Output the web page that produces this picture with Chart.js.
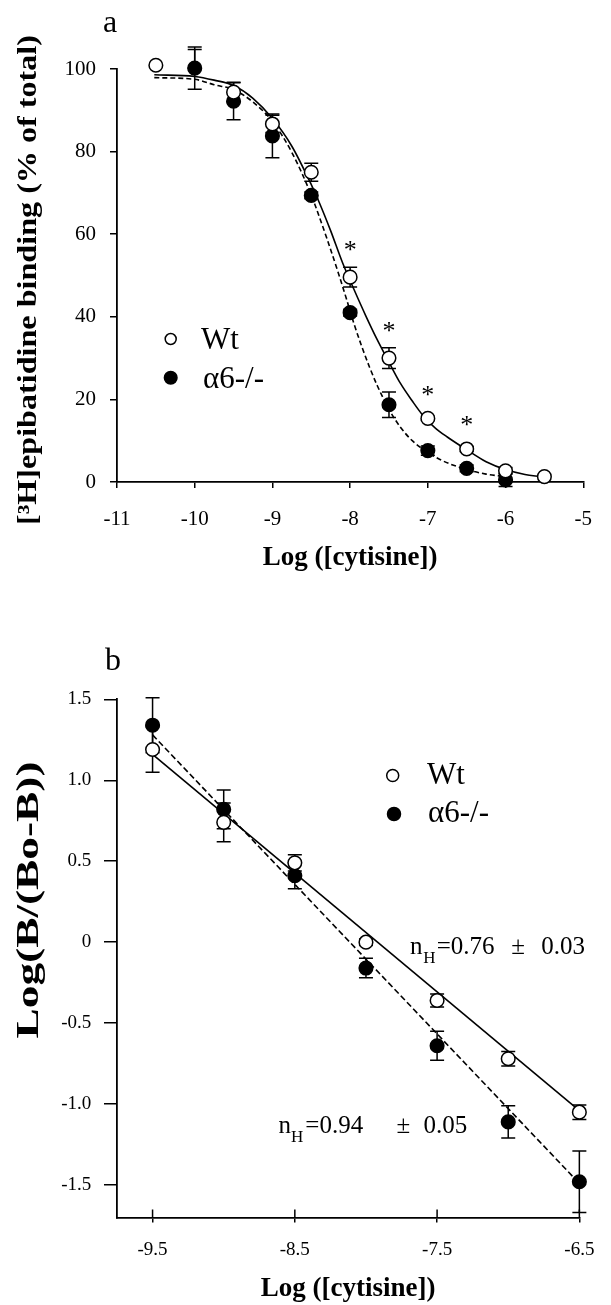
<!DOCTYPE html>
<html lang="en">
<head>
<meta charset="UTF-8">
<title>Cytisine inhibition of [3H]epibatidine binding</title>
<script src="https://cdn.jsdelivr.net/npm/chart.js"></script>
<style>
  html, body { margin: 0; padding: 0; background: #fff; }
  body { width: 611px; height: 1305px; position: relative; overflow: hidden; }
  .panel { position: absolute; left: 0; width: 611px; }
  #panel-a { top: 0; height: 620px; }
  #panel-b { top: 620px; height: 685px; }
</style>
</head>
<body>
<div class="panel" id="panel-a"><canvas id="chartA"></canvas></div>
<div class="panel" id="panel-b"><canvas id="chartB"></canvas></div>
<script>
// panel a - competition curves (% of total binding)
var concWtA = [-10.5, -10, -9.5, -9, -8.5, -8, -7.5, -7, -6.5, -6, -5.5];
var wtA     = [100.9, 102.5, 94.4, 86.7, 75.0, 49.6, 30.0, 15.4, 8.0, 2.7, 1.3];
var wtErrA  = [0, 2.2, 2.4, 2.1, 2.2, 2.4, 2.5, 0.5, 0.6, 0.8, 0];
var concKoA = [-10, -9.5, -9, -8.5, -8, -7.5, -7, -6.5, -6];
var koA     = [100.2, 92.2, 83.8, 69.4, 41.0, 18.7, 7.6, 3.3, 0.5];
var koErrA  = [5.1, 4.5, 5.3, 0.8, 0.8, 3.1, 1.1, 0.8, 1.6];

// fitted curves
var fitXWtA = [-10.52, -10, -9.75, -9.5, -9.25, -9, -8.75, -8.5, -8.4, -8.25, -8.1, -7.95, -7.8, -7.65, -7.5, -7.35, -7.2, -7.05, -6.9, -6.75, -6.5, -6.25, -6, -5.75, -5.55];
var fitWtA  = [98.6, 98.2, 97.3, 96.0, 92.9, 88.0, 81.3, 72.0, 67.8, 60.8, 53.2, 46.6, 40.3, 34.4, 29.0, 23.8, 19.6, 15.8, 13.0, 10.9, 7.8, 4.9, 3.0, 1.8, 1.3];
var fitXKoA = [-10.52, -10, -9.75, -9.5, -9.25, -9, -8.75, -8.5, -8.45, -8.3, -8.15, -8.05, -7.95, -7.85, -7.75, -7.65, -7.5, -7.35, -7.2, -7.05, -6.85, -6.55, -6.25, -6];
var fitKoA  = [97.9, 97.5, 96.2, 95.0, 92.0, 87.3, 79.8, 69.5, 67.0, 59.0, 50.5, 44.5, 38.3, 32.8, 27.8, 23.3, 17.6, 13.2, 10.0, 7.8, 5.5, 3.3, 1.9, 1.3];

// significance marks
var starX = [-8, -7.5, -7, -6.5];
var starY = [57.3, 37.8, 22.3, 14.9];

var xTicksA = [-11, -10, -9, -8, -7, -6, -5];
var yTicksA = [0, 20, 40, 60, 80, 100];

// panel b - Hill plot
var concB   = [-9.5, -9, -8.5, -8, -7.5, -7, -6.5];
var wtB     = [1.19, 0.74, 0.49, 0.0, -0.36, -0.72, -1.05];
var wtErrB  = [0.14, 0.12, 0.05, 0.02, 0.04, 0.045, 0.045];
var koB     = [1.34, 0.82, 0.41, -0.16, -0.64, -1.11, -1.48];
var koErrB  = [0.17, 0.12, 0.08, 0.06, 0.09, 0.10, 0.19];
var fitXB   = [-9.5, -6.5];
var fitWtB  = [1.16, -1.04];
var fitKoB  = [1.28, -1.49];

var xTicksB = [-9.5, -8.5, -7.5, -6.5];
var yTicksB = [-1.5, -1.0, -0.5, 0, 0.5, 1.0, 1.5];

var nhWt = ['0.76', '0.03'];
var nhKo = ['0.94', '0.05'];

var SERIF = '"Liberation Serif", "Times New Roman", serif';

function pts(xs, ys) {
    return xs.map(function (x, i) { return { x: x, y: ys[i] }; });
}

// error bars, legend, labels etc.
var decor = {
    id: 'decor',
    beforeDatasetsDraw: function (chart) {
        var ctx = chart.ctx, xs = chart.scales.x, ys = chart.scales.y;
        ctx.save();
        ctx.strokeStyle = '#000';
        ctx.lineWidth = 1.5;
        chart.data.datasets.forEach(function (ds) {
            if (!ds.errors) return;
            ds.data.forEach(function (p, j) {
                var e = ds.errors[j];
                if (!e) return;
                var px = xs.getPixelForValue(p.x);
                var top = ys.getPixelForValue(p.y + e);
                var bot = ys.getPixelForValue(p.y - e);
                ctx.beginPath();
                ctx.moveTo(px, top); ctx.lineTo(px, bot);
                ctx.moveTo(px - 7, top); ctx.lineTo(px + 7, top);
                ctx.moveTo(px - 7, bot); ctx.lineTo(px + 7, bot);
                ctx.stroke();
            });
        });
        ctx.restore();
    },
    afterDraw: function (chart, args, o) {
        var ctx = chart.ctx, xs = chart.scales.x, ys = chart.scales.y;
        ctx.save();
        ctx.fillStyle = '#000';
        ctx.strokeStyle = '#000';

        // rotated y title, stretched along its length like the original
        if (o.sideTitle) {
            var t = o.sideTitle;
            ctx.save();
            ctx.font = 'bold ' + t.size + 'px ' + SERIF;
            var w = ctx.measureText(t.text).width;
            ctx.translate(t.x, t.y);
            ctx.rotate(-Math.PI / 2);
            ctx.scale(t.length / w, 1);
            ctx.textAlign = 'center';
            ctx.textBaseline = 'middle';
            ctx.fillText(t.text, 0, 0);
            ctx.restore();
        }

        if (o.letter) {
            ctx.font = o.letter.size + 'px ' + SERIF;
            ctx.textAlign = 'left';
            ctx.textBaseline = 'alphabetic';
            ctx.fillText(o.letter.text, o.letter.x, o.letter.y);
        }

        if (o.innerTick) {
            ctx.lineWidth = 1.5;
            ctx.beginPath();
            xs.ticks.forEach(function (tk) {
                var px = xs.getPixelForValue(tk.value);
                ctx.moveTo(px, chart.chartArea.bottom);
                ctx.lineTo(px, chart.chartArea.bottom - o.innerTick);
            });
            ctx.stroke();
        }

        (o.legend || []).forEach(function (it) {
            var ds = chart.data.datasets[it.ds];
            ctx.beginPath();
            ctx.arc(it.cx, it.cy, it.r, 0, Math.PI * 2);
            ctx.fillStyle = ds.pointBackgroundColor;
            ctx.fill();
            ctx.lineWidth = 1.5;
            ctx.stroke();
            ctx.fillStyle = '#000';
            ctx.font = it.size + 'px ' + SERIF;
            ctx.textAlign = 'left';
            ctx.textBaseline = 'alphabetic';
            ctx.fillText(ds.label, it.tx, it.ty);
        });

        if (o.stars) {
            ctx.font = '26px ' + SERIF;
            ctx.textAlign = 'center';
            ctx.textBaseline = 'alphabetic';
            starX.forEach(function (x, i) {
                ctx.fillText('*', xs.getPixelForValue(x), ys.getPixelForValue(starY[i]) + 13);
            });
        }

        (o.notes || []).forEach(function (n) {
            var x0 = xs.getPixelForValue(n.x), y0 = ys.getPixelForValue(n.y);
            ctx.textAlign = 'left';
            ctx.textBaseline = 'alphabetic';
            ctx.font = '25px ' + SERIF;
            ctx.fillText('n', x0, y0);
            ctx.fillText('=' + n.vals[0], x0 + n.dx[1], y0);
            ctx.fillText('\u00b1', x0 + n.dx[2], y0);
            ctx.fillText(n.vals[1], x0 + n.dx[3], y0);
            ctx.font = '17px ' + SERIF;
            ctx.fillText('H', x0 + n.dx[0], y0 + 9);
        });
        ctx.restore();
    }
};

function axisCommon(tickLen, pad, size, cb) {
    return {
        grid: { drawOnChartArea: false, drawTicks: true, tickLength: tickLen, color: '#000', lineWidth: 1.5 },
        border: { display: true, color: '#000', width: 1.8 },
        ticks: { color: '#000', padding: pad, autoSkip: false, maxRotation: 0,
                 font: { family: SERIF, size: size }, callback: cb }
    };
}

function makeScales(cfg) {
    var x = axisCommon(cfg.xTickLen, cfg.xPad, cfg.tickSize, cfg.xFmt);
    x.type = 'linear';
    x.min = cfg.xMin; x.max = cfg.xMax;
    x.afterBuildTicks = function (s) { s.ticks = cfg.xTicks.map(function (v) { return { value: v }; }); };
    x.afterFit = function (s) { s.height = cfg.xHeight; };
    x.title = { display: true, text: 'Log ([cytisine])', color: '#000',
                font: { family: SERIF, size: 27, weight: 'bold', lineHeight: 1 },
                padding: { top: 0, bottom: cfg.titlePad } };
    var y = axisCommon(cfg.yTickLen, cfg.yPad, cfg.tickSize, cfg.yFmt);
    y.min = cfg.yMin; y.max = cfg.yMax;
    y.afterBuildTicks = function (s) { s.ticks = cfg.yTicks.map(function (v) { return { value: v }; }); };
    y.afterFit = function (s) { s.width = 117; };
    return { x: x, y: y };
}

function pointSet(label, xs, ys, errs, fill, order) {
    return { label: label, data: pts(xs, ys), errors: errs, showLine: false, clip: false,
             pointRadius: 6.8, pointHoverRadius: 6.8, pointBackgroundColor: fill,
             pointBorderColor: '#000', pointBorderWidth: 1.5, order: order };
}

function lineSet(label, xs, ys, dash, order) {
    return { label: label, data: pts(xs, ys), showLine: true, pointRadius: 0, clip: false,
             borderColor: '#000', borderWidth: 1.6, borderDash: dash, fill: false,
             cubicInterpolationMode: 'monotone', order: order };
}

var chartA = new Chart(document.getElementById('chartA'), {
    type: 'scatter',
    data: {
        datasets: [
            pointSet('Wt', concWtA, wtA, wtErrA, '#fff', 0),
            pointSet('\u03b16-/-', concKoA, koA, koErrA, '#000', 1),
            lineSet('Wt fit', fitXWtA, fitWtA, [], 2),
            lineSet('\u03b16-/- fit', fitXKoA, fitKoA, [5, 3], 3)
        ]
    },
    options: {
        responsive: true,
        maintainAspectRatio: false,
        animation: false,
        layout: { padding: { left: 0, right: 14, top: 69, bottom: 0 } },
        scales: makeScales({
            xMin: -11, xMax: -5, xTicks: xTicksA, yMin: 0, yMax: 100, yTicks: yTicksA,
            xTickLen: 6, xPad: 19, yTickLen: 7, yPad: 14, tickSize: 21,
            xHeight: 138, titlePad: 48,
            xFmt: function (v) { return String(v); },
            yFmt: function (v) { return String(v); }
        }),
        plugins: {
            legend: { display: false },
            tooltip: { enabled: false },
            decor: {
                sideTitle: { text: '[\u00b3H]epibatidine binding (% of total)', x: 29, y: 280, size: 27, length: 490 },
                letter: { text: 'a', x: 103, y: 32, size: 32 },
                legend: [
                    { ds: 0, cx: 170.7, cy: 339, r: 5.5, tx: 201, ty: 348.5, size: 31 },
                    { ds: 1, cx: 170.7, cy: 377.7, r: 6.3, tx: 203, ty: 387.7, size: 31 }
                ],
                stars: true
            }
        }
    },
    plugins: [decor]
});

var chartB = new Chart(document.getElementById('chartB'), {
    type: 'scatter',
    data: {
        datasets: [
            pointSet('Wt', concB, wtB, wtErrB, '#fff', 0),
            pointSet('\u03b16-/-', concB, koB, koErrB, '#000', 1),
            lineSet('Wt fit', fitXB, fitWtB, [], 2),
            lineSet('\u03b16-/- fit', fitXB, fitKoB, [6, 3], 3)
        ]
    },
    options: {
        responsive: true,
        maintainAspectRatio: false,
        animation: false,
        layout: { padding: { left: 0, right: 14, top: 79.3, bottom: 0 } },
        scales: makeScales({
            xMin: -9.75, xMax: -6.5, xTicks: xTicksB, yMin: -1.7, yMax: 1.5, yTicks: yTicksB,
            xTickLen: 5, xPad: 16.6, yTickLen: 13, yPad: 12.7, tickSize: 19,
            xHeight: 87.6, titlePad: 2,
            xFmt: function (v) { return v.toFixed(1); },
            yFmt: function (v) { return v === 0 ? '0' : v.toFixed(1); }
        }),
        plugins: {
            legend: { display: false },
            tooltip: { enabled: false },
            decor: {
                sideTitle: { text: 'Log(B/(Bo-B))', x: 30, y: 280, size: 32, length: 277 },
                letter: { text: 'b', x: 105, y: 50, size: 32 },
                innerTick: 8,
                legend: [
                    { ds: 0, cx: 392.7, cy: 155.5, r: 6, tx: 427, ty: 164, size: 31 },
                    { ds: 1, cx: 394, cy: 194, r: 6.5, tx: 428, ty: 202.4, size: 31 }
                ],
                notes: [
                    { x: -7.69, y: -0.075, vals: nhWt, dx: [13.3, 26.6, 101.3, 131.3] },
                    { x: -8.614, y: -1.18, vals: nhKo, dx: [12.5, 26.7, 118, 145] }
                ]
            }
        }
    },
    plugins: [decor]
});
</script>
</body>
</html>
